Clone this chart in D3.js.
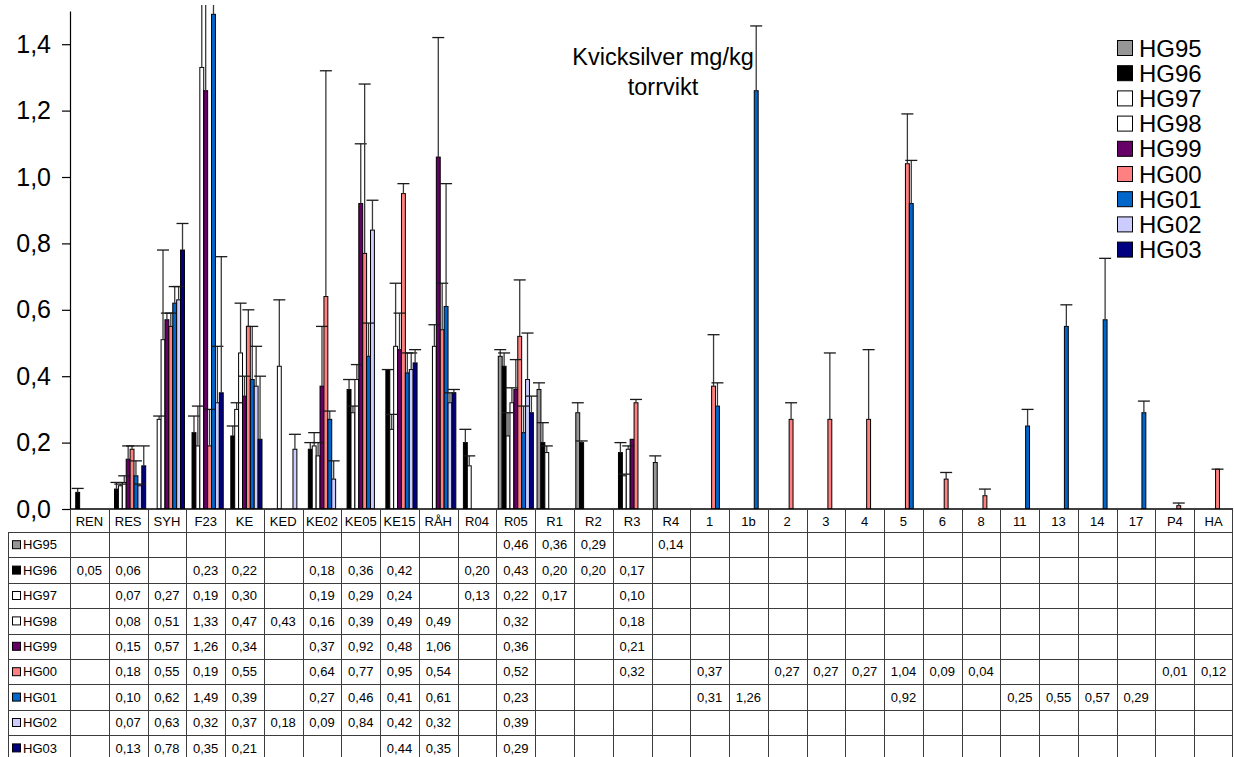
<!DOCTYPE html>
<html>
<head>
<meta charset="utf-8">
<script src="https://cdn.jsdelivr.net/npm/d3@7"></script>
<style>
  html, body { margin: 0; padding: 0; background: #fff; }
  svg { display: block; font-family: "Liberation Sans", Arial, sans-serif; }
</style>
</head>
<body>
<svg id="chart" width="1234" height="757"></svg>
<script>
const _ = null;

// Sampling stations
const categories = ["REN","RES","SYH","F23","KE","KED","KE02","KE05","KE15","RÅH","R04","R05","R1","R2","R3","R4",
  "1","1b","2","3","4","5","6","8","11","13","14","17","P4","HA"];

const seriesNames = ["HG95","HG96","HG97","HG98","HG99","HG00","HG01","HG02","HG03"];

// Mercury, mg/kg dry weight, per year
const hg95 = [_,_,_,_,_,_,_,_,_,_,_,0.46,0.36,0.29,_,0.14,_,_,_,_,_,_,_,_,_,_,_,_,_,_];
const hg96 = [0.05,0.06,_,0.23,0.22,_,0.18,0.36,0.42,_,0.20,0.43,0.20,0.20,0.17,_,_,_,_,_,_,_,_,_,_,_,_,_,_,_];
const hg97 = [_,0.07,0.27,0.19,0.30,_,0.19,0.29,0.24,_,0.13,0.22,0.17,_,0.10,_,_,_,_,_,_,_,_,_,_,_,_,_,_,_];
const hg98 = [_,0.08,0.51,1.33,0.47,0.43,0.16,0.39,0.49,0.49,_,0.32,_,_,0.18,_,_,_,_,_,_,_,_,_,_,_,_,_,_,_];
const hg99 = [_,0.15,0.57,1.26,0.34,_,0.37,0.92,0.48,1.06,_,0.36,_,_,0.21,_,_,_,_,_,_,_,_,_,_,_,_,_,_,_];
const hg00 = [_,0.18,0.55,0.19,0.55,_,0.64,0.77,0.95,0.54,_,0.52,_,_,0.32,_,0.37,_,0.27,0.27,0.27,1.04,0.09,0.04,_,_,_,_,0.01,0.12];
const hg01 = [_,0.10,0.62,1.49,0.39,_,0.27,0.46,0.41,0.61,_,0.23,_,_,_,_,0.31,1.26,_,_,_,0.92,_,_,0.25,0.55,0.57,0.29,_,_];
const hg02 = [_,0.07,0.63,0.32,0.37,0.18,0.09,0.84,0.42,0.32,_,0.39,_,_,_,_,_,_,_,_,_,_,_,_,_,_,_,_,_,_];
const hg03 = [_,0.13,0.78,0.35,0.21,_,_,_,0.44,0.35,_,0.29,_,_,_,_,_,_,_,_,_,_,_,_,_,_,_,_,_,_];

// Upper error (standard deviation) per year
const err95 = [_,_,_,_,_,_,_,_,_,_,_,0.02,0.02,0.03,_,0.02,_,_,_,_,_,_,_,_,_,_,_,_,_,_];
const err96 = [0.012,0.02,_,0.05,0.03,_,0.02,0.03,0.0,_,0.04,0.04,0.06,0.005,0.03,_,_,_,_,_,_,_,_,_,_,_,_,_,_,_];
const err97 = [_,0.005,0.01,0.12,0.02,_,0.04,0.02,0.045,_,0.03,0.07,0.02,_,0.005,_,_,_,_,_,_,_,_,_,_,_,_,_,_,_];
const err98 = [_,0.02,0.27,0.5,0.15,0.2,0.04,0.045,0.19,0.065,_,0.045,_,_,0.01,_,_,_,_,_,_,_,_,_,_,_,_,_,_,_];
const err99 = [_,0.04,0.02,0.4,0.06,_,0.18,0.18,0.11,0.36,_,0.09,_,_,_,_,_,_,_,_,_,_,_,_,_,_,_,_,_,_];
const err00 = [_,0.01,0.04,0.11,0.05,_,0.68,0.51,0.03,0.14,_,0.17,_,_,0.01,_,0.155,_,0.05,0.2,0.21,0.15,0.02,0.02,_,_,_,_,0.008,0.0];
const err01 = [_,0.045,0.05,0.3,0.16,_,0.025,0.1,0.06,0.37,_,0.08,_,_,_,_,0.07,0.195,_,_,_,0.13,_,_,0.05,0.065,0.185,0.035,_,_];
const err02 = [_,0.005,0.04,0.17,0.12,0.045,0.055,0.09,0.05,0.03,_,0.14,_,_,_,_,_,_,_,_,_,_,_,_,_,_,_,_,_,_];
const err03 = [_,0.06,0.08,0.41,0.19,_,_,_,0.04,0.01,_,0.05,_,_,_,_,_,_,_,_,_,_,_,_,_,_,_,_,_,_];

const yTicks = [0, 0.2, 0.4, 0.6, 0.8, 1.0, 1.2, 1.4];
const titleLines = ["Kvicksilver mg/kg", "torrvikt"];

const seriesValues = [hg95, hg96, hg97, hg98, hg99, hg00, hg01, hg02, hg03];
const seriesErrors = [err95, err96, err97, err98, err99, err00, err01, err02, err03];
const seriesColors = ["#969696","#000000","#ffffff","#ffffff","#660066","#ff8080","#0066cc","#ccccff","#000080"];

const fmt = v => d3.format(".2f")(v).replace(".", ",");
const fmtTick = v => d3.format(".1f")(v).replace(".", ",");

const svg = d3.select("#chart");
const plotLeft = 70, plotRight = 1233, plotBottom = 509, plotTop = 11;

const x = d3.scaleBand().domain(categories).range([plotLeft, plotRight]).padding(0);
const xs = d3.scaleBand().domain(seriesNames).range([0, x.bandwidth()]).paddingInner(0).paddingOuter(0.47);
const y = d3.scaleLinear().domain([0, 1.5]).range([plotBottom, plotTop]);

// clip so that long error bars stop at the top edge
svg.append("defs").append("clipPath").attr("id", "plotclip")
  .append("rect").attr("x", plotLeft).attr("y", 5).attr("width", plotRight - plotLeft).attr("height", plotBottom - 5);

const plot = svg.append("g").attr("clip-path", "url(#plotclip)");

seriesNames.forEach((name, si) => {
  const vals = seriesValues[si];
  const errs = seriesErrors[si];
  const pts = categories.map((c, ci) => ({ c, v: vals[ci], e: errs[ci] })).filter(d => d.v !== null);
  const g = plot.append("g");
  g.selectAll("rect").data(pts).join("rect")
    .attr("x", d => x(d.c) + xs(name))
    .attr("y", d => y(d.v))
    .attr("width", xs.bandwidth())
    .attr("height", d => y(0) - y(d.v))
    .attr("fill", seriesColors[si])
    .attr("stroke", "#000")
    .attr("stroke-width", 1);
});

// error bars drawn over the bars
seriesNames.forEach((name, si) => {
  const vals = seriesValues[si];
  const errs = seriesErrors[si];
  const pts = categories.map((c, ci) => ({ c, v: vals[ci], e: errs[ci] })).filter(d => d.v !== null && d.e !== null);
  const g = plot.append("g");
  const cx = d => x(d.c) + xs(name) + xs.bandwidth() / 2;
  g.selectAll("line.stem").data(pts).join("line")
    .attr("class", "stem")
    .attr("x1", cx).attr("x2", cx)
    .attr("y1", d => y(d.v)).attr("y2", d => y(d.v + d.e))
    .attr("stroke", "#3a3a3a").attr("stroke-width", 1.3);
  g.selectAll("line.cap").data(pts).join("line")
    .attr("class", "cap")
    .attr("x1", d => cx(d) - 6).attr("x2", d => cx(d) + 6)
    .attr("y1", d => y(d.v + d.e)).attr("y2", d => y(d.v + d.e))
    .attr("stroke", "#1a1a1a").attr("stroke-width", 1.3);
});

// y axis
const yAxis = d3.axisLeft(y).tickValues(yTicks).tickFormat(fmtTick).tickSize(8).tickSizeOuter(0);
const ya = svg.append("g").attr("transform", `translate(${plotLeft},0)`).call(yAxis);
ya.select(".domain").attr("stroke", "#000").attr("stroke-width", 1.2);
ya.selectAll(".tick line").attr("stroke", "#000").attr("stroke-width", 1.2);
ya.selectAll(".tick text").attr("font-size", 25).attr("fill", "#000").attr("x", -19)
  .attr("font-family", "Liberation Sans, Arial, sans-serif");

// baseline
svg.append("line").attr("x1", plotLeft).attr("x2", plotRight).attr("y1", plotBottom).attr("y2", plotBottom)
  .attr("stroke", "#000").attr("stroke-width", 1.5);

// title
svg.append("text").attr("x", 663).attr("y", 65).attr("text-anchor", "middle")
  .attr("font-size", 23.5).attr("fill", "#000")
  .selectAll("tspan").data(titleLines).join("tspan")
  .attr("x", 663).attr("dy", (d, i) => i === 0 ? 0 : 30).text(d => d);

// legend
const legend = svg.append("g");
seriesNames.forEach((name, i) => {
  const ly = 48 + i * 25.2;
  legend.append("rect").attr("x", 1117.5).attr("y", ly - 7.5).attr("width", 15).attr("height", 15)
    .attr("fill", seriesColors[i]).attr("stroke", "#000").attr("stroke-width", 1);
  legend.append("text").attr("x", 1139).attr("y", ly).attr("dy", "0.36em")
    .attr("font-size", 24).attr("fill", "#000").text(name);
});

// data table
const headerTop = plotBottom, headerBottom = 532, rowH = 25.4, tableLeft = 8;
const table = svg.append("g").attr("font-size", 13).attr("fill", "#000");
const gridColor = "#3c3c3c";

// header cells
table.selectAll("text.head").data(categories).join("text")
  .attr("class", "head")
  .attr("x", d => x(d) + x.bandwidth() / 2).attr("y", (headerTop + headerBottom) / 2 + 1)
  .attr("dy", "0.36em").attr("text-anchor", "middle").text(d => d);

// rows
seriesNames.forEach((name, si) => {
  const top = headerBottom + si * rowH;
  const mid = top + rowH / 2;
  table.append("rect").attr("x", 12.5).attr("y", mid - 4).attr("width", 8).attr("height", 8)
    .attr("fill", seriesColors[si]).attr("stroke", "#000").attr("stroke-width", 1);
  table.append("text").attr("x", 23).attr("y", mid).attr("dy", "0.36em").text(name);
  const vals = seriesValues[si];
  const pts = categories.map((c, ci) => ({ c, v: vals[ci] })).filter(d => d.v !== null);
  table.append("g").selectAll("text").data(pts).join("text")
    .attr("x", d => x(d.c) + x.bandwidth() / 2).attr("y", mid)
    .attr("dy", "0.36em").attr("text-anchor", "middle").text(d => fmt(d.v));
});

// grid lines
const grid = svg.append("g").attr("stroke", gridColor).attr("stroke-width", 1);
const tableBottom = headerBottom + seriesNames.length * rowH;
for (let i = 0; i <= seriesNames.length; i++) {
  const yy = Math.round(headerBottom + i * rowH) + 0.5;
  grid.append("line").attr("x1", tableLeft).attr("x2", plotRight).attr("y1", yy).attr("y2", yy);
}
grid.append("line").attr("x1", tableLeft + 0.5).attr("x2", tableLeft + 0.5).attr("y1", headerBottom).attr("y2", tableBottom);
categories.forEach(c => {
  const xx = Math.round(x(c)) + 0.5;
  grid.append("line").attr("x1", xx).attr("x2", xx).attr("y1", headerTop).attr("y2", tableBottom);
});
grid.append("line").attr("x1", plotRight - 0.5).attr("x2", plotRight - 0.5).attr("y1", headerTop).attr("y2", tableBottom);
</script>
</body>
</html>
